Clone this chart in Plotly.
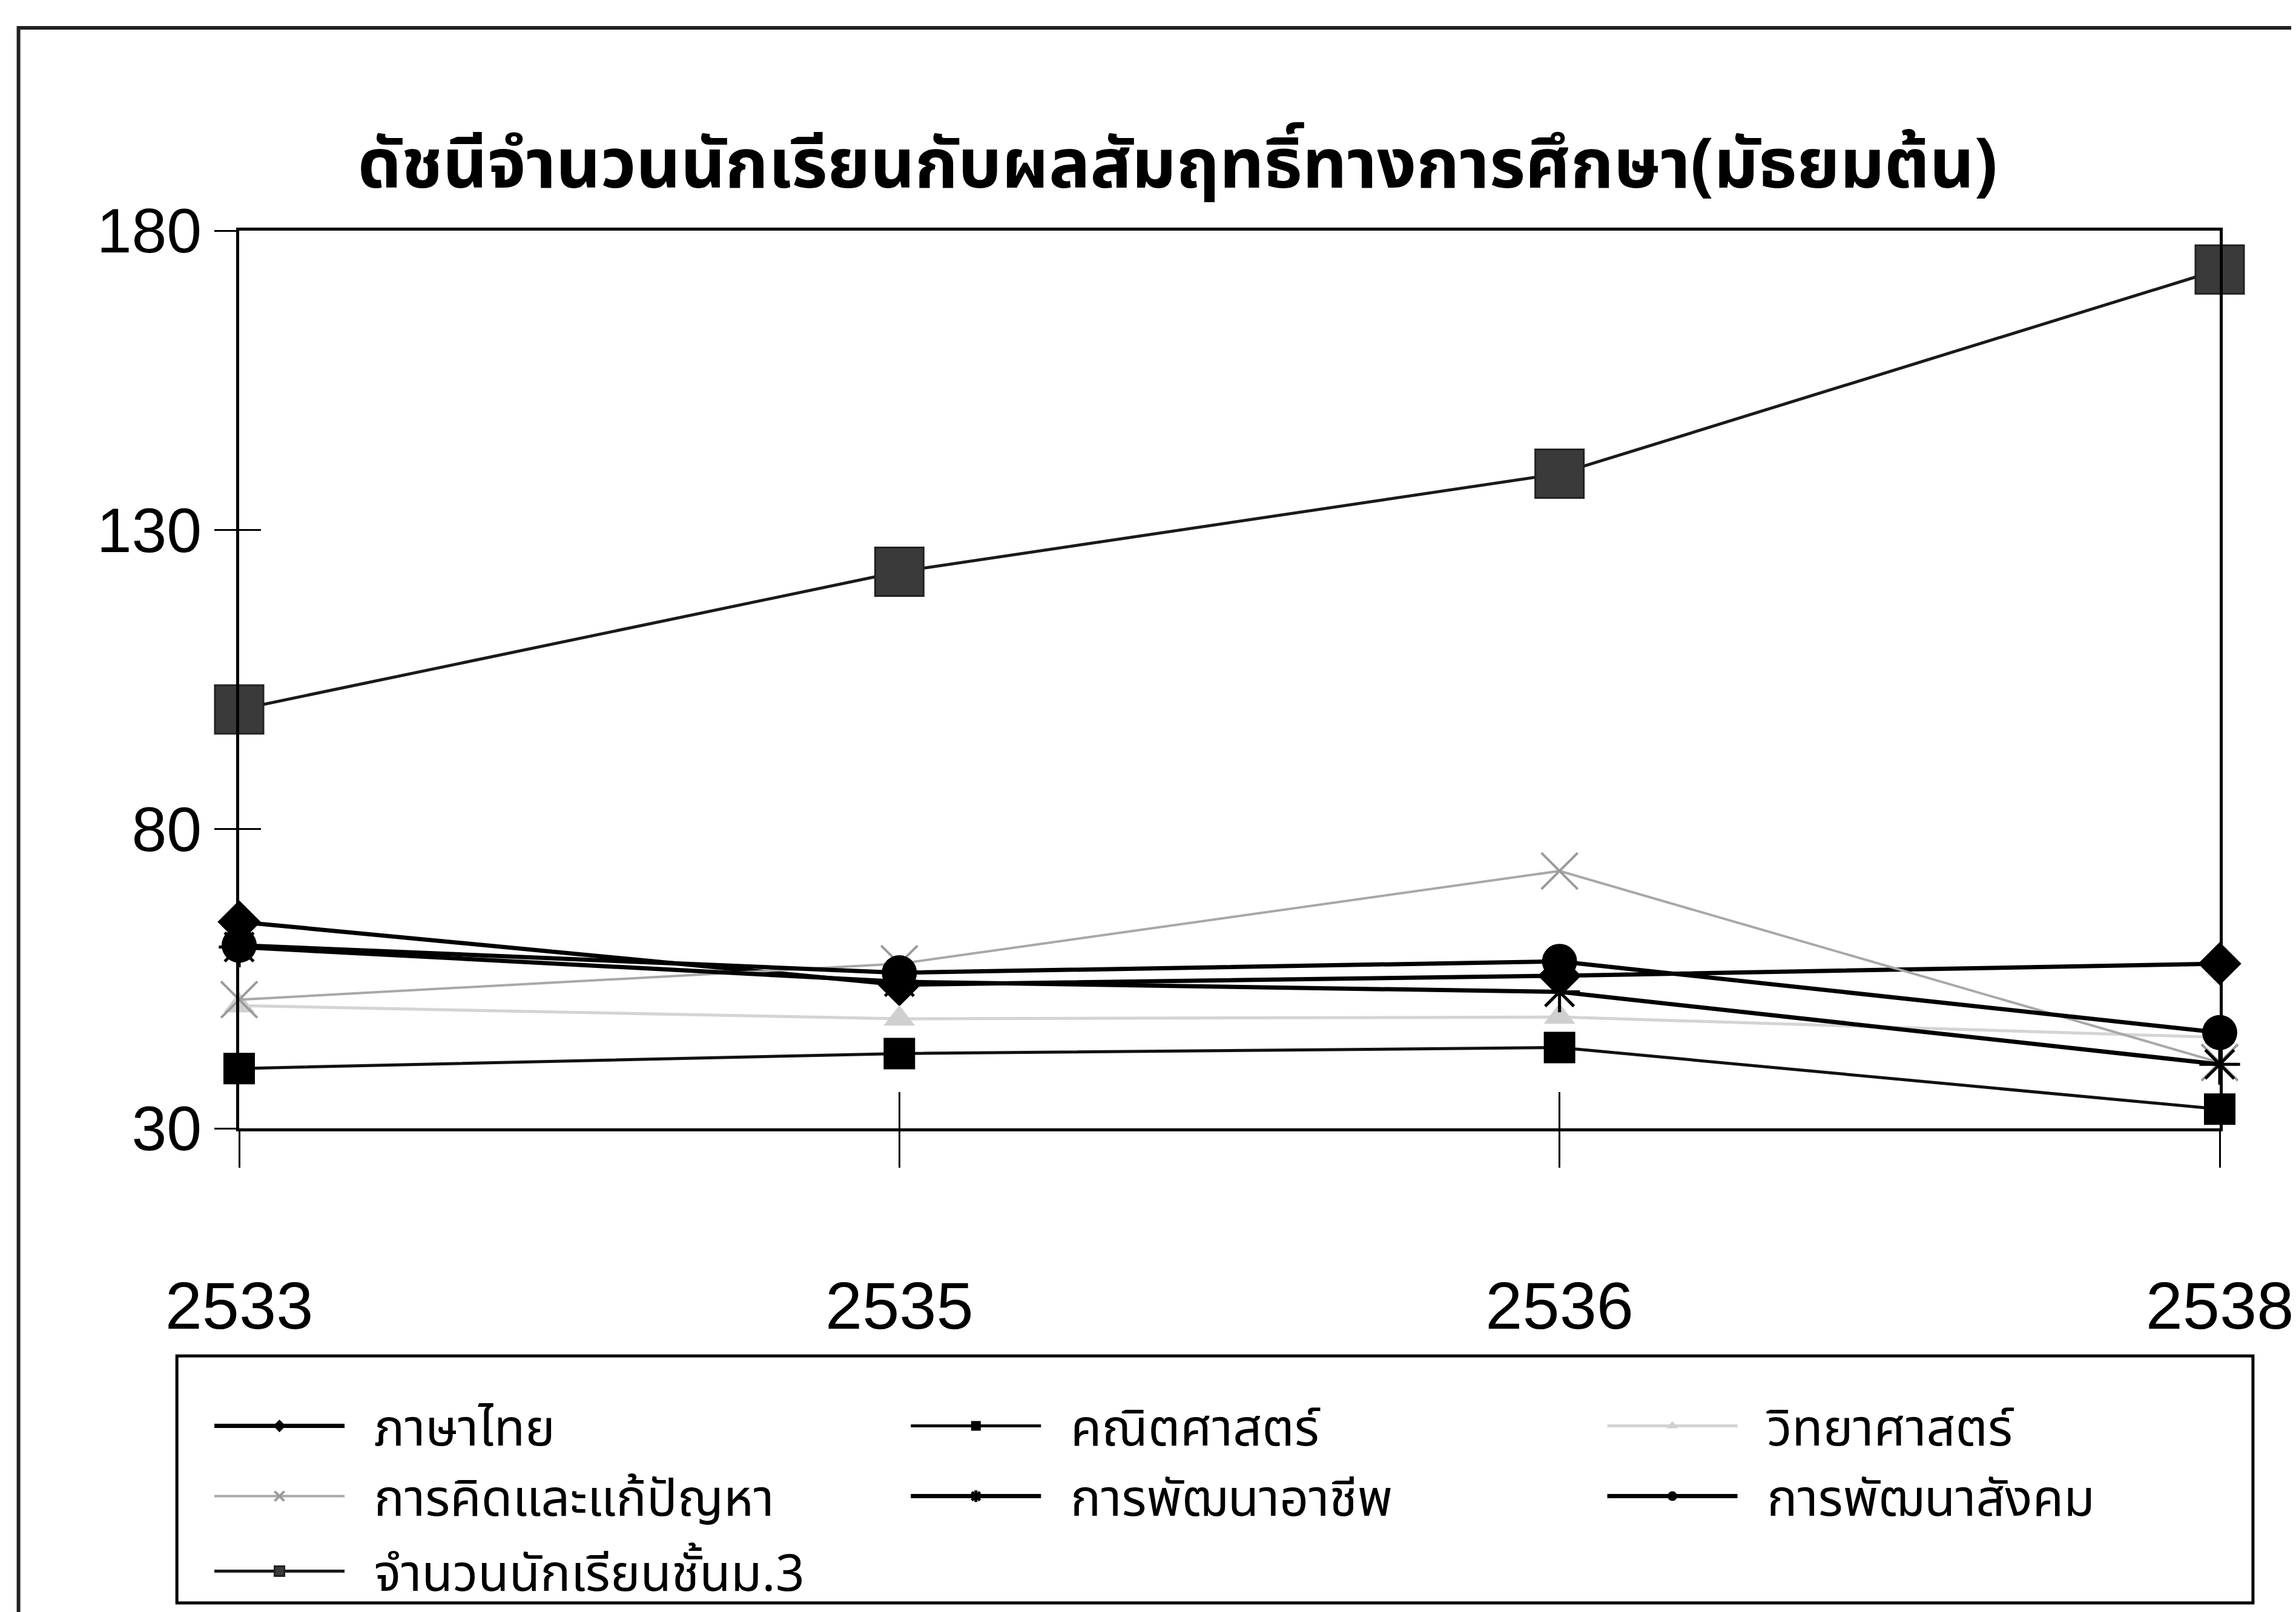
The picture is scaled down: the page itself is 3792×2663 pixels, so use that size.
import plotly.graph_objects as go

years = ["2533", "2535", "2536", "2538"]
thai = [64.5, 54.0, 55.5, 57.5]
math = [40.0, 42.5, 43.5, 33.2]
science = [50.5, 48.3, 48.6, 45.2]
thinking = [51.5, 57.5, 73.0, 41.0]
career = [60.3, 54.5, 52.8, 40.7]
social = [60.6, 56.0, 57.9, 46.0]
students = [100.0, 123.0, 139.4, 173.5]

y_ticks = [30, 80, 130, 180]

TH = "Noto Sans Thai, Noto Sans Thai UI, Loma, Garuda, Noto Sans, sans-serif"
NUM = "Liberation Sans, Arial, sans-serif"

W, H = 3792, 2663
L, R, T, B = 387, 3663, 373, 1856
pw, ph = R - L, B - T


def px(X):
    return (X - L) / pw


def py(Y):
    return (B - Y) / ph


GAP = "\u00a0\u00a0"
COLS = [341, 1493, 2645]
ROWS = [2348, 2464, 2588]

fig = go.Figure()

series = [
    ("ภาษาไทย", thai, dict(color="#000000", width=7),
     dict(symbol="diamond", size=55, color="#000000")),
    ("คณิตศาสตร์", math, dict(color="#111111", width=5),
     dict(symbol="square", size=52, color="#000000")),
    ("วิทยาศาสตร์", science, dict(color="#d4d4d4", width=5),
     dict(symbol="triangle-up", size=45, color="#cfcfcf")),
    ("การคิดและแก้ปัญหา", thinking, dict(color="#a8a8a8", width=4),
     dict(symbol="x-thin-open", size=60, color="#9a9a9a", line=dict(width=4, color="#9a9a9a"))),
    ("การพัฒนาอาชีพ", career, dict(color="#000000", width=7),
     dict(symbol="asterisk-open", size=56, color="#000000", line=dict(width=5, color="#000000"))),
    ("การพัฒนาสังคม", social, dict(color="#000000", width=7),
     dict(symbol="circle", size=58, color="#000000")),
]

leg_common = dict(orientation="h", xanchor="left", yanchor="middle", itemwidth=215,
                  font=dict(family=TH, size=84, color="#000000"),
                  bgcolor="rgba(0,0,0,0)", borderwidth=0)
legends = {}

for i, (name, vals, ln, mk) in enumerate(series):
    key = "legend" if i == 0 else "legend%d" % (i + 1)
    legends[key] = dict(x=px(COLS[i % 3]), y=py(ROWS[i // 3]), **leg_common)
    fig.add_trace(go.Scatter(x=years, y=vals, name=GAP + name, mode="lines+markers",
                             line=ln, marker=mk, cliponaxis=False, legend=key))

legends["legend7"] = dict(x=px(COLS[0]), y=py(ROWS[2]), **leg_common)
fig.add_trace(go.Scatter(x=years, y=students, name=GAP + "จำนวนนักเรียนชั้นม.3", mode="lines+markers",
                         line=dict(color="#1a1a1a", width=5),
                         marker=dict(symbol="square", size=80, color="#3a3a3a",
                                     line=dict(width=3, color="#222222")),
                         cliponaxis=False, xaxis="x2", yaxis="y2", legend="legend7"))

fig.update_layout(
    width=W, height=H,
    margin=dict(l=L, r=W - R, t=T, b=H - B),
    paper_bgcolor="white", plot_bgcolor="white",
    title=dict(text="<b>ดัชนีจำนวนนักเรียนกับผลสัมฤทธิ์ทางการศึกษา(มัธยมต้น)</b>",
               x=1937 / W, xanchor="center", y=1 - 262 / H, yanchor="middle",
               font=dict(family=TH, size=114, color="#000000")),
    xaxis=dict(type="category", categoryorder="array", categoryarray=years,
               range=[0, 3], showgrid=False, zeroline=False,
               showline=True, linecolor="#000000", linewidth=5, mirror=True,
               ticks="outside", ticklen=60, tickwidth=3, tickcolor="#000000",
               tickfont=dict(family=NUM, size=110, color="#000000"),
               ticklabelstandoff=134),
    yaxis=dict(range=[30, 180], tickvals=y_ticks, showgrid=False, zeroline=False,
               showline=True, linecolor="#000000", linewidth=5, mirror=True,
               ticks="outside", ticklen=36, tickwidth=3, tickcolor="#000000",
               tickfont=dict(family=NUM, size=104, color="#000000")),
    xaxis2=dict(type="category", categoryorder="array", categoryarray=years,
                overlaying="x", matches="x", anchor="y2", side="bottom",
                showgrid=False, zeroline=False, showline=False,
                ticks="inside", ticklen=60, tickwidth=3, tickcolor="#000000",
                showticklabels=False),
    yaxis2=dict(range=[30, 180], overlaying="y", matches="y", anchor="x2", side="left",
                tickvals=y_ticks, showgrid=False, zeroline=False, showline=False,
                ticks="inside", ticklen=36, tickwidth=3, tickcolor="#000000",
                showticklabels=False),
    showlegend=True,
    shapes=[
        dict(type="rect", xref="paper", yref="paper",
             x0=px(284), x1=px(3718), y0=py(2640), y1=py(2232),
             line=dict(color="#000000", width=5), fillcolor="rgba(0,0,0,0)", layer="below"),
        dict(type="rect", xref="paper", yref="paper",
             x0=px(22), x1=px(3830), y0=py(2720), y1=py(38),
             line=dict(color="#222222", width=6), fillcolor="rgba(0,0,0,0)", layer="below"),
    ],
    **legends,
)

fig.write_html("out.html")
